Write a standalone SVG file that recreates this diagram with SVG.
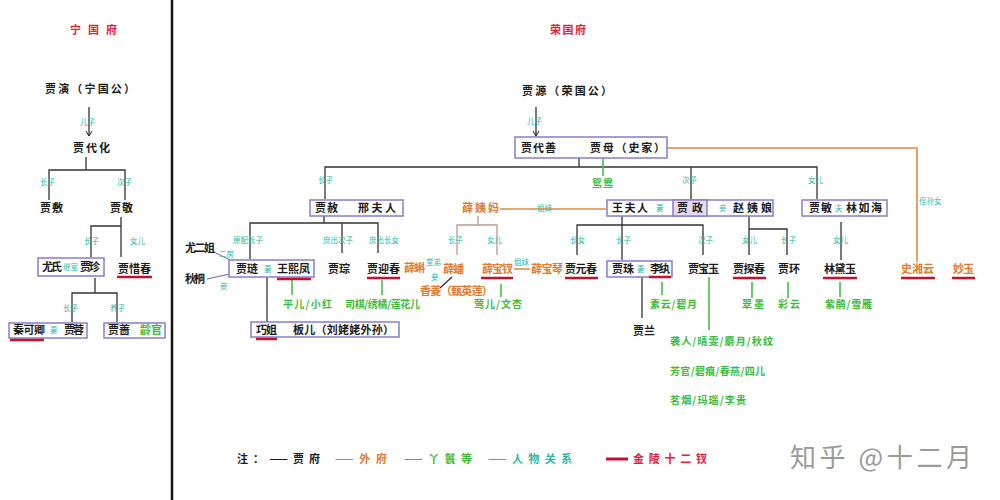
<svg xmlns="http://www.w3.org/2000/svg" width="1000" height="500" viewBox="0 0 1000 500">
<defs>
<marker id="arr" markerWidth="8" markerHeight="8" refX="6" refY="4" orient="auto" markerUnits="userSpaceOnUse"><path d="M1,1 L6,4 L1,7" fill="none" stroke="#222" stroke-width="1"/></marker>
</defs>
<style>
text{font-family:"Noto Sans CJK SC","Noto Sans",sans-serif;font-weight:bold;font-size:11px;fill:#1a1a1a}
.s{font-size:7.5px;font-weight:normal;fill:#2bb8a6}
.o{fill:#e07a2c}
.g{fill:#3cba3c;font-size:10px}
.r{fill:#e0203a}
.t{fill:#2bb8a6}
.box{fill:#fff;stroke:#8a7cc8;stroke-width:1.5}
.ln{stroke:#333;stroke-width:1.3;fill:none}
.gl{stroke:#45bf45;stroke-width:1.6;fill:none}
.ol{stroke:#e08a3c;stroke-width:1.6;fill:none}
.bl{stroke:#b89c8c;stroke-width:1.3;fill:none}
.pl{stroke:#7060b0;stroke-width:1;fill:none}
.ul{stroke:#c8102e;stroke-width:2.5}
</style>
<rect width="1000" height="500" fill="#fff"/>
<line x1="172" y1="0" x2="172" y2="500" stroke="#111" stroke-width="2.5"/>

<g id="connectors">
<line x1="89" y1="107" x2="89" y2="136" class="ln" marker-end="url(#arr)"/>
<path class="ln" d="M86,157 V170 M49,200 V170 H125 V200 M121,217 V257 M91,257 V226 H121 M95,278 V293 M72,322 V293 H117 V322"/>
<line x1="536" y1="107" x2="536" y2="136" class="ln" marker-end="url(#arr)"/>
<path class="ln" d="M579,158 V167 M325,199 V167 H817 V199 M691,167 V199 M324,216 V223 M250,259 V223 H378 V253 M342,223 V253 M267,277 V322 M622,216 V260 M577,255 V225 H703 V255 M749,216 V255 M749,229 H787 V255 M642,277 V318 M841,222 V260 M452,277 L440,288"/>
<path class="pl" d="M559,148 H590 M214,252 L234,262 M207,279 L230,274"/>
<path class="ol" d="M667,148 H917 V262 M500,209 H606 M514,269 H530"/>
<path class="bl" d="M478,216 V225 M457,255 V225 H497 V255"/>
<path class="gl" d="M603,155 V176 M292,280 V295 M382,280 V295 M501,284 V297 M662,282 V295 M709,277 V330 M752,282 V298 M788,282 V298 M840,282 V297"/>
<text class="s" x="80" y="125">儿子</text>
<text class="s" x="40" y="185">长子</text>
<text class="s" x="117" y="185">次子</text>
<text class="s" x="84" y="244">长子</text>
<text class="s" x="130" y="244">女儿</text>
<text class="s" x="63" y="311">长子</text>
<text class="s" x="110" y="311">养子</text>
<text class="s" x="527" y="124">儿子</text>
<text class="s" x="318" y="183">长子</text>
<text class="s" x="682" y="183">次子</text>
<text class="s" x="808" y="183">女儿</text>
<text class="s" x="919" y="204">侄孙女</text>
<text class="s" x="537" y="211">姐妹</text>
<text class="s" x="233" y="243">原配长子</text>
<text class="s" x="323" y="243">庶出次子</text>
<text class="s" x="369" y="243">庶出长女</text>
<text class="s" x="448" y="243">长子</text>
<text class="s" x="487" y="243">女儿</text>
<text class="s" x="570" y="243">长女</text>
<text class="s" x="616" y="243">长子</text>
<text class="s" x="698" y="243">次子</text>
<text class="s" x="742" y="243">女儿</text>
<text class="s" x="781" y="243">长子</text>
<text class="s" x="833" y="243">女儿</text>
<text class="s" x="219" y="257">二房</text>
<text class="s" x="220" y="289">妾</text>
<text class="s" x="426" y="265">堂弟</text>
<text class="s" x="431" y="280">妾</text>
<text class="s" x="514" y="265">姐妹</text>
</g>

<g id="title-ning"><text class="r" x="70" y="34" font-size="12" textLength="47">宁国府</text></g>
<g id="jia-yan"><text x="45" y="93" textLength="90">贾演（宁国公）</text></g>
<g id="jia-daihua"><text x="73" y="152" textLength="37">贾代化</text></g>
<g id="jia-fu"><text x="40" y="212" textLength="23">贾敷</text></g>
<g id="jia-jing"><text x="110" y="212" textLength="23">贾敬</text></g>
<g id="jia-zhen"><rect class="box" x="38" y="258" width="66" height="18"/><text x="42" y="271" textLength="20">尤氏</text><text class="s" x="63" y="270">继室</text><text x="80" y="271" textLength="20">贾珍</text></g>
<g id="jia-xichun"><text x="118" y="273" textLength="33">贾惜春</text><line class="ul" x1="117" y1="277" x2="152" y2="277"/></g>
<g id="jia-rong"><rect class="box" x="9" y="323" width="78" height="15"/><text x="13" y="334" textLength="32">秦可卿</text><text class="s" x="50" y="333">妻</text><text x="64" y="334" textLength="20">贾蓉</text><line class="ul" x1="10" y1="340" x2="44" y2="340"/></g>
<g id="jia-qiang"><rect class="box" x="104" y="323" width="61" height="15"/><text x="108" y="334" textLength="22">贾蔷</text><text class="g" x="140" y="334" textLength="22" style="font-size:11px">龄官</text></g>

<g id="title-rong"><text class="r" x="550" y="34" font-size="12" textLength="36">荣国府</text></g>
<g id="jia-yuan"><text x="522" y="95" textLength="90">贾源（荣国公）</text></g>
<g id="jia-daishan"><rect class="box" x="515" y="137" width="152" height="21"/><text x="521" y="152" textLength="35">贾代善</text><text x="590" y="152" textLength="75">贾母（史家）</text></g>
<g id="yuanyang"><text class="g" x="592" y="187" textLength="21">鸳鸯</text></g>
<g id="jia-she"><rect class="box" x="310" y="200" width="93" height="16"/><text x="315" y="212" textLength="23">贾赦</text><text x="358" y="212" textLength="38">邢夫人</text></g>
<g id="xue-yima"><text class="o" x="462" y="212" textLength="37">薛姨妈</text></g>
<g id="jia-zheng"><rect class="box" x="607" y="200" width="166" height="16"/><rect x="673" y="200" width="34" height="16" fill="#e4dcf4" stroke="#8a7cc8" stroke-width="1.5"/><text x="612" y="212" textLength="36">王夫人</text><text class="s" x="656" y="211">妻</text><text x="677" y="212" textLength="26">贾政</text><text class="s" x="719" y="211">妾</text><text x="733" y="212" textLength="39">赵姨娘</text></g>
<g id="jia-min"><rect class="box" x="802" y="200" width="85" height="16"/><text x="809" y="212" textLength="23">贾敏</text><text class="s" x="835" y="211">夫</text><text x="846" y="212" textLength="36">林如海</text></g>

<g id="you-erjie"><text x="185" y="252" textLength="30">尤二姐</text></g>
<g id="qiutong"><text x="185" y="283" textLength="20">秋桐</text></g>
<g id="jia-lian"><rect class="box" x="229" y="260" width="85" height="17"/><text x="236" y="273" textLength="22">贾琏</text><text class="s" x="264" y="272">妻</text><text x="277" y="273" textLength="33">王熙凤</text><line class="ul" x1="277" y1="279" x2="311" y2="279"/></g>
<g id="jia-cong"><text x="328" y="273" textLength="22">贾琮</text></g>
<g id="jia-yingchun"><text x="367" y="273" textLength="33">贾迎春</text><line class="ul" x1="367" y1="278" x2="400" y2="278"/></g>
<g id="xue-ke"><text class="o" x="404" y="272" textLength="21">薛蝌</text></g>
<g id="xue-pan"><text class="o" x="443" y="273" textLength="21">薛蟠</text></g>
<g id="xiangling"><text class="o" x="420" y="295" textLength="73">香菱（甄英莲）</text></g>
<g id="xue-baochai"><text class="o" x="482" y="273" textLength="31">薛宝钗</text><line class="ul" x1="481" y1="278" x2="513" y2="278"/></g>
<g id="xue-baoqin"><text class="o" x="531" y="273" textLength="32">薛宝琴</text></g>
<g id="jia-yuanchun"><text x="565" y="273" textLength="32">贾元春</text><line class="ul" x1="565" y1="278" x2="598" y2="278"/></g>
<g id="jia-zhu"><rect class="box" x="607" y="261" width="65" height="16"/><text x="612" y="273" textLength="22">贾珠</text><text class="s" x="637" y="272">妻</text><text x="650" y="273" textLength="20">李纨</text><line class="ul" x1="649" y1="277" x2="671" y2="277"/></g>
<g id="jia-baoyu"><text x="688" y="273" textLength="31">贾宝玉</text></g>
<g id="jia-tanchun"><text x="733" y="273" textLength="32">贾探春</text><line class="ul" x1="733" y1="278" x2="766" y2="278"/></g>
<g id="jia-huan"><text x="778" y="273" textLength="22">贾环</text></g>
<g id="lin-daiyu"><text x="824" y="273" textLength="32">林黛玉</text><line class="ul" x1="823" y1="278" x2="857" y2="278"/></g>
<g id="shi-xiangyun"><text class="o" x="901" y="273" textLength="33">史湘云</text><line class="ul" x1="901" y1="278" x2="935" y2="278"/></g>
<g id="miaoyu"><text class="o" x="953" y="273" textLength="21">妙玉</text><line class="ul" x1="952" y1="278" x2="975" y2="278"/></g>

<g id="maids">
<text class="g" x="283" y="308" textLength="49">平儿/小红</text>
<text class="g" x="345" y="308" textLength="75">司棋/绣橘/莲花儿</text>
<text class="g" x="474" y="308" textLength="48">莺儿/文杏</text>
<text class="g" x="650" y="308" textLength="47">素云/碧月</text>
<text class="g" x="742" y="308" textLength="22">翠墨</text>
<text class="g" x="778" y="308" textLength="22">彩云</text>
<text class="g" x="825" y="308" textLength="47">紫鹃/雪雁</text>
<text class="g" x="670" y="345" textLength="103">袭人/晴雯/麝月/秋纹</text>
<text class="g" x="670" y="375" textLength="95">芳官/碧痕/春燕/四儿</text>
<text class="g" x="670" y="404" textLength="76">茗烟/玛瑙/李贵</text>
</g>
<g id="qiaojie"><rect class="box" x="251" y="322" width="148" height="15"/><text x="256" y="334" textLength="21">巧姐</text><line class="ul" x1="256" y1="339" x2="277" y2="339"/><text x="293" y="334" textLength="101">板儿（刘姥姥外孙）</text></g>
<g id="jia-lan"><text x="633" y="335" textLength="22">贾兰</text></g>

<g id="legend">
<text x="237" y="463" textLength="83">注：——贾府</text>
<text class="o" x="335" y="463" textLength="52">——外府</text>
<text class="g" x="404" y="463" textLength="68" style="font-size:11px">——丫鬟等</text>
<text class="t" x="488" y="463" textLength="84">——人物关系</text>
<line x1="606" y1="459" x2="628" y2="459" stroke="#c8102e" stroke-width="3"/>
<text class="r" x="633" y="463" textLength="74">金陵十二钗</text>
</g>
<g id="watermark"><text x="790" y="467" textLength="182" style="font-size:26px;font-weight:normal;fill:#9a9a9a">知乎 @十二月</text></g>
</svg>
